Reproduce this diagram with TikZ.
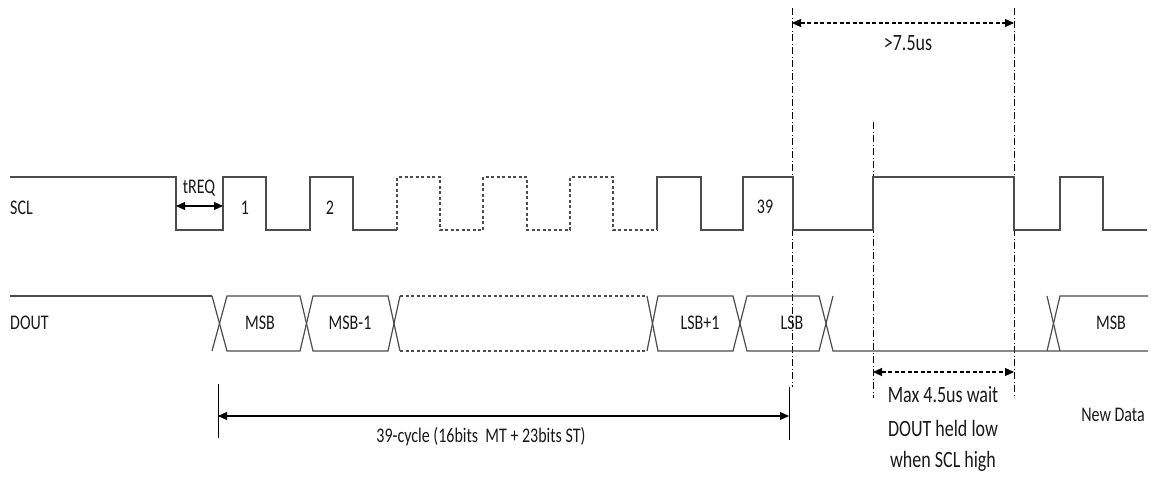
\documentclass[tikz,border=0pt]{standalone}
\usepackage{fontspec}
\setmainfont{Carlito}
\usetikzlibrary{arrows.meta}
\newcommand{\tallt}[1]{\scalebox{1}[1.3]{#1}}
\tikzset{
  wave/.style={draw=black!70, line width=1.2pt},
  dwave/.style={wave, dash pattern=on 3pt off 2.5pt},
  guide/.style={draw=black, line width=0.7pt, dash pattern=on 7pt off 2.5pt on 1pt off 2.5pt},
  dim/.style={draw=black, line width=1.1pt, {Triangle[length=9pt,width=8pt]}-{Triangle[length=9pt,width=8pt]}},
  ddim/.style={dim, dash pattern=on 4pt off 2.5pt},
  lbl/.style={inner sep=0pt, text=black!90, font=\fontsize{16}{19}\selectfont},
  big/.style={inner sep=0pt, text=black!90, font=\fontsize{18}{19}\selectfont}
}
\begin{document}
\begin{tikzpicture}[x=1pt,y=-1pt]
\useasboundingbox (0,0) rectangle (1151,477);
% guide lines
\draw[guide] (792,8) -- (792,387);
\draw[guide] (873,122) -- (873,398);
\draw[guide] (1014,8) -- (1014,398);
% SCL
\draw[wave] (10,177) -- (176,177) -- (176,230) -- (223,230) -- (223,177) -- (266,177) -- (266,230) -- (310,230) -- (310,177) -- (353,177) -- (353,230) -- (397,230);
\draw[dwave] (397,230) -- (397,177) -- (440,177) -- (440,230) -- (483,230) -- (483,177) -- (527,177) -- (527,230) -- (570,230) -- (570,177) -- (613,177) -- (613,230) -- (657,230);
\draw[wave] (657,230) -- (657,177) -- (701,177) -- (701,230) -- (743,230) -- (743,177) -- (793,177) -- (793,230) -- (873,230) -- (873,177) -- (1014,177) -- (1014,230) -- (1060,230) -- (1060,177) -- (1103,177) -- (1103,230) -- (1147,230);
% DOUT
\draw[wave] (10,296) -- (212,296);
\draw[wave] (212,296) -- (227,351) -- (300,351) -- (313,296) -- (388,296) -- (400,351);
\draw[wave] (212,351) -- (227,296) -- (300,296) -- (313,351) -- (388,351) -- (400,296);
\draw[dwave] (400,296) -- (647,296);
\draw[dwave] (400,351) -- (647,351);
\draw[wave] (647,296) -- (658,351) -- (733,351) -- (747,296) -- (819,296) -- (833,351) -- (1148,351);
\draw[wave] (647,351) -- (658,296) -- (733,296) -- (747,351) -- (819,351) -- (833,296);
\draw[wave] (1047,296) -- (1060,351);
\draw[wave] (1047,351) -- (1060,296) -- (1148,296);
% dimension coordinates
\coordinate (ta) at (176,206);
\coordinate (tb) at (223,206);
\coordinate (ca) at (218,416);
\coordinate (cb) at (789,416);
\coordinate (sa) at (792,23);
\coordinate (sb) at (1014,23);
\coordinate (ma) at (873,372);
\coordinate (mb) at (1014,372);
\draw[line width=0.9pt] (218,384) -- (218,438);
\draw[line width=0.9pt] (789,387) -- (789,440);
\draw[dim] (ta) -- (tb);
\draw[dim] (ca) -- (cb);
\draw[ddim] (sa) -- (sb);
\draw[ddim] (ma) -- (mb);
% labels
\node[lbl, anchor=west] (scl) at (10,208) {\tallt{SCL}};
\node[lbl, anchor=west] (dout) at (10,323) {\tallt{DOUT}};
\node[lbl] (treq) at (199,188) {\tallt{tREQ}};
\node[lbl] (c1) at (245,208) {\tallt{1}};
\node[lbl] (c2) at (330,208) {\tallt{2}};
\node[lbl] (c39) at (765,207) {\tallt{39}};
\node[lbl] (msb) at (260,323) {\tallt{MSB}};
\node[lbl] (msb1) at (350,323) {\tallt{MSB-1}};
\node[lbl] (lsb1) at (700,323) {\tallt{LSB+1}};
\node[lbl] (lsb) at (792,323) {\tallt{LSB}};
\node[lbl] (msbn) at (1111,323) {\tallt{MSB}};
\node[lbl] (cyc) at (481,437) {\tallt{39-cycle (16bits\ \ MT + 23bits ST)}};
\node[big] (t75) at (908,43) {\tallt{>7.5us}};
\node[big] (maxw1) at (943,395) {\tallt{Max 4.5us wait}};
\node[big] (maxw2) at (943,428) {\tallt{DOUT held low}};
\node[big] (maxw3) at (943,461) {\tallt{when SCL high}};
\node[lbl] (nd) at (1113,415) {\tallt{New Data}};
\end{tikzpicture}
\end{document}
